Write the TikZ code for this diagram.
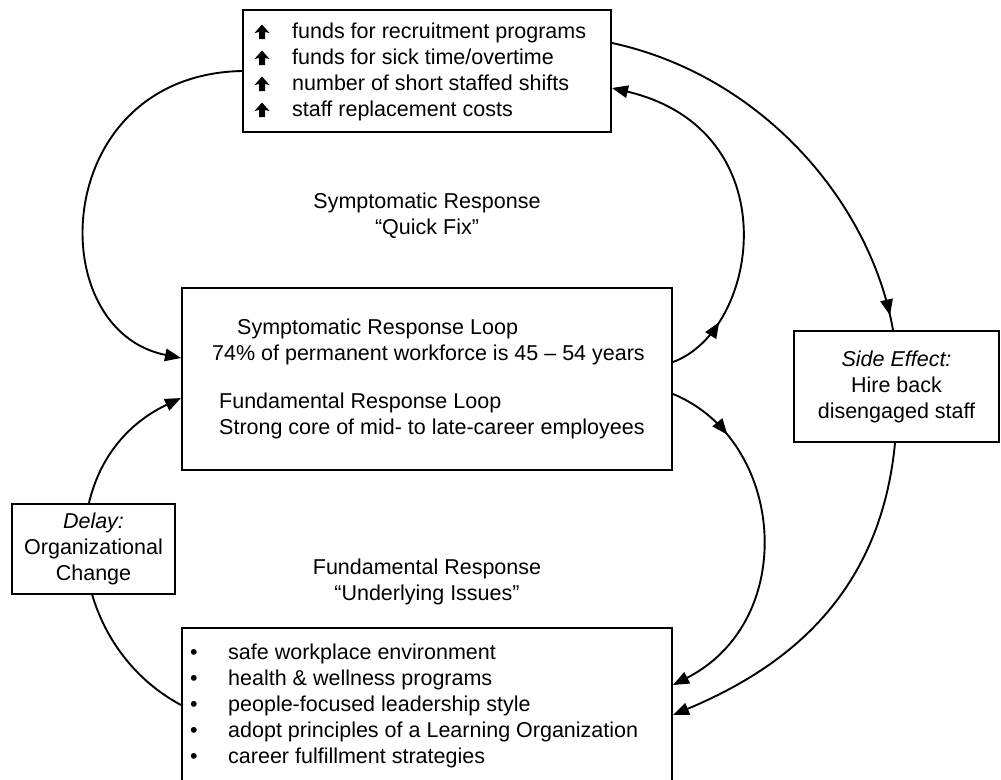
\documentclass[tikz,border=0pt]{standalone}
\usepackage{fontspec}
\setmainfont{Liberation Sans}
\usetikzlibrary{arrows.meta,decorations.markings}
\pgfdeclarelayer{background}
\pgfsetlayers{background,main}

\begin{document}
\begin{tikzpicture}[x=1pt,y=-1pt,
  font=\fontsize{21.5}{26}\selectfont,
  box/.style={draw,line width=2pt,fill=white,inner sep=0pt},
  txt/.style={anchor=base west,inner sep=0pt},
  link/.style={line width=1.9pt,-{Triangle[length=16pt,width=12.5pt]}},
  plainlink/.style={line width=1.9pt},
  midarrow/.style={postaction={decorate},
    decoration={markings,mark=at position #1 with {\arrow{Triangle[length=16pt,width=12.5pt]}}}},
]
\useasboundingbox (0,0) rectangle (1001,779);

% boxes
\node[box,minimum width=368pt,minimum height=122pt] (top) at (427,71) {};
\node[box,minimum width=490pt,minimum height=182pt] (mid) at (427,379) {};
\node[box,minimum width=490pt,minimum height=154pt] (bot) at (427,705) {};
\node[box,minimum width=163pt,minimum height=90pt,align=center] (delay) at (93.5,549)
  {\textit{Delay:}\\Organizational\\Change};
\node[box,minimum width=205pt,minimum height=111pt,align=center] (side) at (896.5,386.5)
  {\textit{Side Effect:}\\Hire back\\disengaged staff};

% top box: rising quantities
\foreach \yy in {32,58,84,110}
  \fill (254.5,\yy+1) -- (262,\yy-7.5) -- (269.5,\yy+1) -- (265,\yy) -- (265,\yy+7) -- (259,\yy+7) -- (259,\yy) -- cycle;
\node[txt] (t1) at (292,38) {funds for recruitment programs};
\node[txt] (t2) at (292,64) {funds for sick time/overtime};
\node[txt] (t3) at (292,90) {number of short staffed shifts};
\node[txt] (t4) at (292,116) {staff replacement costs};

% middle box: the two loops
\node[txt] (m1) at (237,334) {Symptomatic Response Loop};
\node[txt] (m2) at (212,360) {74\% of permanent workforce is 45 – 54 years};
\node[txt] (m3) at (219,408) {Fundamental Response Loop};
\node[txt] (m4) at (219,434) {Strong core of mid- to late-career employees};

% bottom box: fundamental measures
\foreach \yy/\tx [count=\i] in {659/safe workplace environment,
    685/health \& wellness programs,
    711/people-focused leadership style,
    737/adopt principles of a Learning Organization,
    763/career fulfillment strategies}{
  \node[txt] (b\i) at (228,\yy) {\tx};
  \node[txt] (d\i) at (190,\yy) {•};
}

% loop labels
\node[align=center] (sr) at (427,216) {Symptomatic Response\\“Quick Fix”};
\node[align=center] (fr) at (427,582) {Fundamental Response\\“Underlying Issues”};

% connectors
\begin{pgfonlayer}{background}
\draw[link] (top.west |- 0,71) .. controls (50,75) and (40,330) .. (mid.west |- 0,358);
\draw[link] (bot.west |- 0,705) .. controls (60,640) and (50,460) .. (mid.west |- 0,398);
\draw[link,midarrow=0.17] (mid.east |- 0,362) .. controls (760,330) and (790,130) .. (top.east |- 0,88);
\draw[link,midarrow=0.19] (mid.east |- 0,394) .. controls (785,440) and (800,620) .. (bot.east |- 0,685);
\draw[plainlink,midarrow=0.965] (top.east |- 0,43) .. controls (760,75) and (870,200) .. (893,0 |- side.north);
\draw[link] (895,0 |- side.south) .. controls (880,600) and (780,670) .. (bot.east |- 0,715);
\end{pgfonlayer}
\end{tikzpicture}
\end{document}
